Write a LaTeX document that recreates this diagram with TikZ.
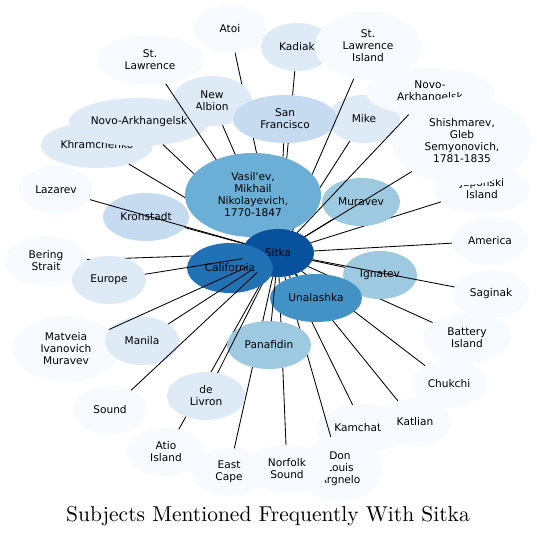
\documentclass[tikz,border=0pt]{standalone}
\usepackage{fontspec}
\newfontfamily\dvs{DejaVu Sans}
\newfontfamily\lmten{lmroman10-regular.otf}
\usetikzlibrary{shapes.geometric}
\pgfdeclarelayer{lA}\pgfdeclarelayer{lB}\pgfdeclarelayer{lC}
\pgfdeclarelayer{lD}\pgfdeclarelayer{lE}\pgfdeclarelayer{lF}
\pgfsetlayers{main,lA,lB,lC,lD,lE,lF}
\definecolor{bA}{HTML}{F7FBFF}
\definecolor{bB}{HTML}{DEEBF7}
\definecolor{bC}{HTML}{C6DBEF}
\definecolor{bD}{HTML}{9ECAE1}
\definecolor{bE}{HTML}{6BAED6}
\definecolor{bF}{HTML}{4292C6}
\definecolor{bG}{HTML}{2171B5}
\definecolor{bH}{HTML}{08519C}
\tikzset{
  bub/.style n args={3}{ellipse, draw=none, fill=#1, inner sep=0pt, outer sep=0pt,
    minimum width=#2pt, minimum height=#3pt, align=center, text=black,
    font=\dvs\fontsize{10.6}{12}\selectfont},
  lnk/.style={draw=black, line width=0.85pt},
}
\begin{document}
\begin{tikzpicture}[x=1pt, y=-1pt]
\fill[white] (0,0) rectangle (537,538);
\useasboundingbox (0,0) rectangle (537,538);
% ---- nodes, bottom layer
\begin{pgfonlayer}{lA}
\node[bub={bA}{72}{48}] (atoi) at (230,29) {Atoi};
\node[bub={bB}{72}{48}] (kadiak) at (297,47) {Kadiak};
\node[bub={bA}{106}{50}] (stlaw) at (150,60) {St.\\Lawrence};
\node[bub={bB}{112}{46}] (khram) at (97,145) {Khramchenko};
\node[bub={bA}{74}{48}] (lazarev) at (56,190) {Lazarev};
\node[bub={bC}{86}{48}] (kronstadt) at (146,217) {Kronstadt};
\node[bub={bA}{82}{50}] (bering) at (46,261) {Bering\\Strait};
\node[bub={bA}{106}{66}] (matveia) at (66,349) {Matveia\\Ivanovich\\Muravev};
\node[bub={bA}{74}{48}] (sound) at (110,410) {Sound};
\node[bub={bA}{78}{48}] (atio) at (166,452) {Atio\\Island};
\node[bub={bA}{74}{48}] (eastcape) at (229,472) {East\\Cape};
\node[bub={bA}{84}{66}] (donlouis) at (340,469) {Don\\Louis\\Argnelo};
\node[bub={bA}{94}{48}] (kamchatka) at (364,428) {Kamchatka};
\node[bub={bA}{74}{48}] (chukchi) at (449,384) {Chukchi};
\node[bub={bA}{88}{50}] (battery) at (467,338) {Battery\\Island};
\node[bub={bA}{76}{48}] (saginak) at (491,294) {Saginak};
\node[bub={bA}{76}{48}] (america) at (490,241) {America};
\node[bub={bA}{96}{50}] (japonski) at (482,189) {Japonski\\Island};
\node[bub={bB}{72}{48}] (mike) at (364,119) {Mike};
\end{pgfonlayer}
% ---- nodes, middle layer
\begin{pgfonlayer}{lC}
\node[bub={bB}{80}{50}] (newalbion) at (212,101) {New\\Albion};
\node[bub={bC}{104}{48}] (sanfran) at (285,119) {San\\Francisco};
\node[bub={bB}{140}{48}] (novoL) at (139,122) {Novo-Arkhangelsk};
\node[bub={bB}{74}{48}] (europe) at (109,280) {Europe};
\node[bub={bB}{74}{48}] (manila) at (142,341) {Manila};
\node[bub={bB}{78}{48}] (delivron) at (206,396) {de\\Livron};
\node[bub={bD}{84}{48}] (panafidin) at (269,345) {Panafidin};
\node[bub={bA}{86}{48}] (norfolk) at (287,469) {Norfolk\\Sound};
\node[bub={bA}{72}{48}] (katlian) at (415,422) {Katlian};
\node[bub={bD}{74}{48}] (ignatev) at (380,275) {Ignatev};
\node[bub={bF}{92}{48}] (unalashka) at (316,298) {Unalashka};
\node[bub={bD}{78}{48}] (muravev) at (361,202) {Muravev};
\node[bub={bA}{106}{68}] (stli) at (368,46) {St.\\Lawrence\\Island};
\node[bub={bA}{128}{48}] (novoR) at (430,92) {Novo-\\Arkhangelsk};
\node[bub={bA}{140}{88}] (shish) at (462,141) {Shishmarev,\\Gleb\\Semyonovich,\\1781-1835};
\end{pgfonlayer}
% ---- nodes, top layer
\begin{pgfonlayer}{lE}
\node[bub={bE}{136}{84}] (vasilev) at (253,195) {Vasil'ev,\\Mikhail\\Nikolayevich,\\1770-1847};
\node[bub={bH}{72}{48}] (sitka) at (278,253) {Sitka};
\node[bub={bG}{86}{50}] (california) at (230,268) {California};
\end{pgfonlayer}
% ---- connectors hidden under later nodes
\begin{pgfonlayer}{lB}
\foreach \t in {atoi,kadiak,bering,atio,eastcape,norfolk,donlouis,kamchatka,katlian,chukchi,battery,japonski}
  \draw[lnk] (sitka) -- (\t);
\end{pgfonlayer}
\begin{pgfonlayer}{lD}
\foreach \t in {newalbion,sanfran,stlaw,khram,novoL,mike,stli,shish,novoR,muravev,ignatev,saginak,america,unalashka,panafidin,delivron,vasilev,california,lazarev,kronstadt}
  \draw[lnk] (sitka) -- (\t);
\end{pgfonlayer}
\begin{pgfonlayer}{lF}
\foreach \t in {europe,manila,matveia,sound}
  \draw[lnk] (sitka) -- (\t);
\end{pgfonlayer}
% ---- title
\node[font=\lmten\fontsize{21.5}{25}\selectfont] (title) at (268,516) {Subjects Mentioned Frequently With Sitka};
\end{tikzpicture}
\end{document}
